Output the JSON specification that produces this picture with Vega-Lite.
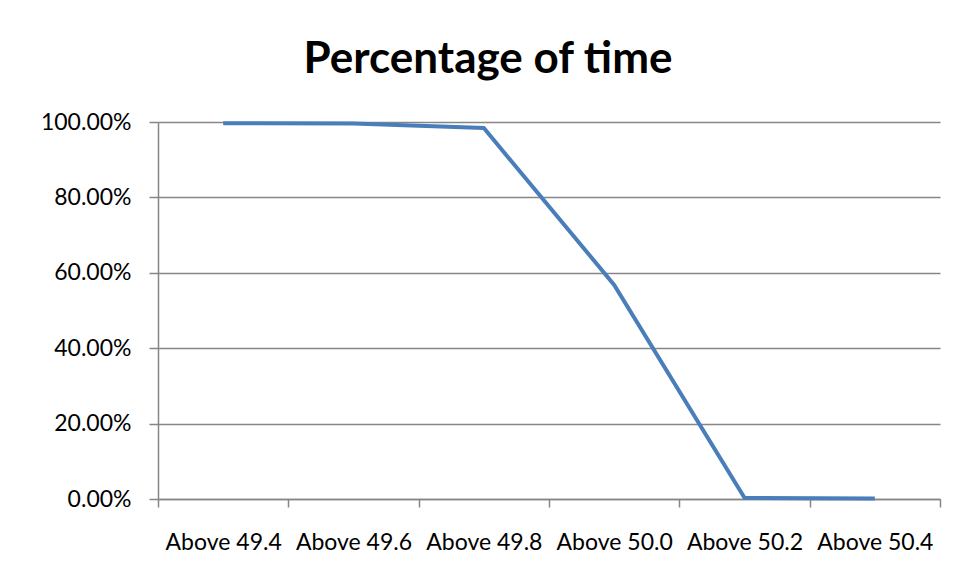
{
  "$schema": "https://vega.github.io/schema/vega-lite/v6.json",
  "width": 782,
  "height": 377,
  "autosize": {"type": "none"},
  "padding": {"left": 158, "top": 122, "right": 17, "bottom": 81},
  "background": "white",
  "title": {
    "text": "Percentage of time",
    "font": "Lato",
    "fontSize": 44,
    "fontWeight": "bold",
    "color": "#000000",
    "anchor": "middle",
    "frame": "group",
    "dx": -61,
    "offset": 29
  },
  "data": {
    "values": [
      {"band": "Above 49.4", "pct": 0.997},
      {"band": "Above 49.6", "pct": 0.996},
      {"band": "Above 49.8", "pct": 0.984},
      {"band": "Above 50.0", "pct": 0.568},
      {"band": "Above 50.2", "pct": 0.003},
      {"band": "Above 50.4", "pct": 0.001}
    ]
  },
  "mark": {"type": "line", "color": "#4A7EBB", "strokeWidth": 4},
  "encoding": {
    "x": {
      "field": "band",
      "type": "nominal",
      "sort": null,
      "scale": {"type": "band", "paddingInner": 0, "paddingOuter": 0},
      "axis": {
        "title": null,
        "labelAngle": 0,
        "labelFont": "Lato",
        "labelFontSize": 23,
        "labelColor": "#000000",
        "labelPadding": 24,
        "tickBand": "extent",
        "tickSize": 8,
        "tickColor": "#868686",
        "tickWidth": 1.5,
        "domainColor": "#868686",
        "domainWidth": 1.5,
        "grid": false
      }
    },
    "y": {
      "field": "pct",
      "type": "quantitative",
      "scale": {"domain": [0, 1]},
      "axis": {
        "title": null,
        "format": ".2%",
        "values": [0, 0.2, 0.4, 0.6, 0.8, 1],
        "labelFont": "Lato",
        "labelFontSize": 23,
        "labelColor": "#000000",
        "labelPadding": 18,
        "tickSize": 9,
        "tickColor": "#868686",
        "tickWidth": 1.5,
        "domainColor": "#868686",
        "domainWidth": 1.5,
        "grid": true,
        "gridColor": "#868686",
        "gridWidth": 1.5
      }
    }
  },
  "config": {"view": {"stroke": null}}
}
